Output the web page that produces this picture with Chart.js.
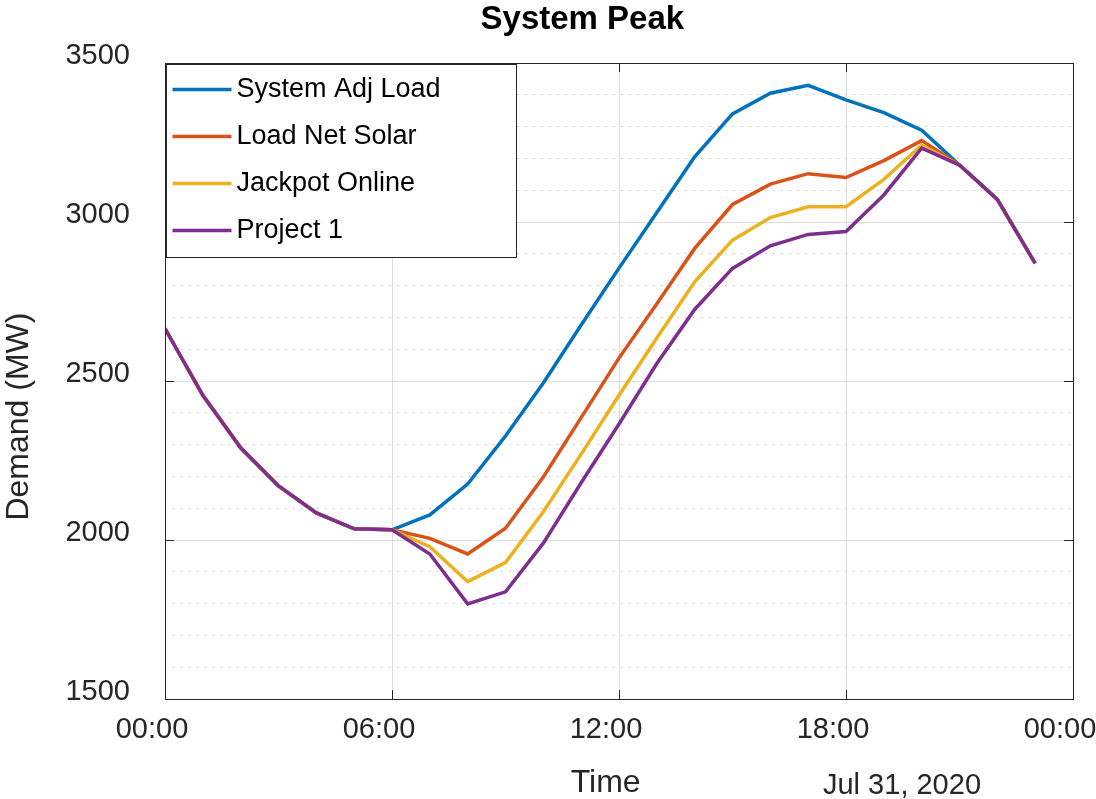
<!DOCTYPE html>
<html>
<head>
<meta charset="utf-8">
<script src="https://cdn.jsdelivr.net/npm/chart.js@4/dist/chart.umd.min.js"></script>
<style>
html,body{margin:0;padding:0;background:#ffffff;}
#wrap{width:1096px;height:799px;position:relative;}
</style>
</head>
<body>
<div id="wrap"><canvas id="c" width="1096" height="799"></canvas></div>
<script>
// ---- data (hour of day, Jul 31, 2020) ----
const hours = [0,1,2,3,4,5,6,7,8,9,10,11,12,13,14,15,16,17,18,19,20,21,22,23];
const systemAdjLoad = [2665,2455,2290,2170,2085,2035,2032,2079,2176,2327,2494,2676,2855,3030,3205,3340,3405,3430,3384,3344,3289,3179,3071,2870];
const loadNetSolar  = [2665,2455,2290,2170,2085,2035,2032,2005,1956,2037,2198,2385,2572,2743,2917,3055,3119,3152,3140,3193,3256,3179,3071,2870];
const jackpotOnline = [2665,2455,2290,2170,2085,2035,2032,1979,1869,1929,2089,2270,2455,2635,2812,2943,3014,3048,3048,3134,3242,3179,3071,2870];
const project1      = [2665,2455,2290,2170,2085,2035,2032,1956,1799,1837,1990,2180,2365,2555,2725,2854,2925,2961,2970,3085,3232,3179,3071,2870];
const seriesNames   = ['System Adj Load','Load Net Solar','Jackpot Online','Project 1'];
const xTickHours    = [0,6,12,18,24];
const yTickValues   = [1500,2000,2500,3000,3500];
const dateLabel     = 'Jul 31, 2020';

const colors = ['#0072BD','#D95319','#EDB120','#7E2F8E'];
const FONT = '"Liberation Sans", Arial, Helvetica, sans-serif';
const AX = '#262626';

function toXY(arr){ return arr.map((v,i)=>({x:hours[i], y:v})); }
const allSeries = [systemAdjLoad, loadNetSolar, jackpotOnline, project1];

const datasets = allSeries.map((s,i)=>({
  label: seriesNames[i],
  data: toXY(s),
  borderColor: colors[i],
  backgroundColor: colors[i],
  borderWidth: 3.5,
  pointRadius: 0,
  tension: 0,
  fill: false,
  order: allSeries.length - 1 - i   // later series drawn on top (as in the reference)
}));

const NB = '\u00A0';
const pad2 = n => (n<10?'0':'')+n;

const matlabPlugin = {
  id: 'matlabDecor',
  afterDatasetsDraw(chart){
    const {ctx, chartArea:a, scales:{x, y}} = chart;
    ctx.save();
    // box
    ctx.strokeStyle = AX; ctx.lineWidth = 1;
    ctx.strokeRect(Math.round(a.left)+0.5, Math.round(a.top)+0.5, Math.round(a.right-a.left), Math.round(a.bottom-a.top));
    // inward ticks
    const tl = 9;
    ctx.beginPath();
    xTickHours.forEach(h=>{
      const px = Math.round(x.getPixelForValue(h))+0.5;
      ctx.moveTo(px, a.bottom); ctx.lineTo(px, a.bottom-tl);
      ctx.moveTo(px, a.top); ctx.lineTo(px, a.top+tl);
    });
    yTickValues.forEach(v=>{
      const py = Math.round(y.getPixelForValue(v))+0.5;
      ctx.moveTo(a.left, py); ctx.lineTo(a.left+tl, py);
      ctx.moveTo(a.right, py); ctx.lineTo(a.right-tl, py);
    });
    ctx.stroke();

    // legend box
    const lx = Math.round(a.left)+1.5, ly = Math.round(a.top)+1.5;
    const lw = 350, lh = 193;
    ctx.fillStyle = '#ffffff';
    ctx.fillRect(lx, ly, lw, lh);
    ctx.strokeStyle = AX; ctx.lineWidth = 1;
    ctx.strokeRect(lx, ly, lw, lh);
    ctx.font = '27px ' + FONT;
    ctx.textBaseline = 'middle';
    ctx.textAlign = 'left';
    chart.data.datasets.forEach((ds,i)=>{
      const cy = ly + 25 + i*47;
      ctx.strokeStyle = ds.borderColor; ctx.lineWidth = 3.5;
      ctx.beginPath(); ctx.moveTo(lx+6, cy); ctx.lineTo(lx+65, cy); ctx.stroke();
      ctx.fillStyle = '#000000';
      ctx.fillText(ds.label, lx+70, cy);
    });

    // date label under axis
    ctx.font = '29px ' + FONT;
    ctx.fillStyle = AX;
    ctx.textAlign = 'center';
    ctx.textBaseline = 'middle';
    ctx.fillText(dateLabel, a.right - 171, a.bottom + 87);
    ctx.restore();
  }
};

new Chart(document.getElementById('c'), {
  type: 'line',
  data: { datasets },
  plugins: [matlabPlugin],
  options: {
    responsive: false,
    animation: false,
    devicePixelRatio: 1,
    layout: { padding: { left: 0, right: 23, top: 0, bottom: 0 } },
    plugins: {
      legend: { display: false },
      tooltip: { enabled: false },
      title: {
        display: true,
        text: NB.repeat(10) + 'System Peak',
        color: '#000000',
        font: { family: FONT, size: 33, weight: 'bold', lineHeight: 1.2 },
        padding: { top: 0, bottom: 23.4 }
      }
    },
    scales: {
      x: {
        type: 'linear',
        min: 0, max: 24,
        afterFit: s => { s.height = 100; s.paddingLeft = 0; s.paddingRight = 0; },
        afterBuildTicks: s => { s.ticks = xTickHours.map(v=>({value:v})); },
        ticks: {
          color: AX,
          font: { family: FONT, size: 29 },
          padding: 14,
          labelOffset: -13,
          maxRotation: 0,
          autoSkip: false,
          callback: v => pad2(v % 24) + ':00'
        },
        grid: { color: '#dedede', lineWidth: 1, drawTicks: false },
        border: { display: false },
        title: {
          display: true,
          text: 'Time' + NB.repeat(3),
          color: AX,
          font: { family: FONT, size: 32, lineHeight: 1.2 },
          padding: { top: 0, bottom: -3 }
        }
      },
      y: {
        type: 'linear',
        min: 1500, max: 3500,
        afterFit: s => { s.width = 165; s.paddingTop = 0; s.paddingBottom = 0; },
        ticks: {
          stepSize: 100,
          autoSkip: false,
          color: AX,
          font: { family: FONT, size: 29 },
          padding: 35,
          labelOffset: -7,
          callback: v => (v % 500 === 0 ? String(v) : '')
        },
        grid: {
          drawTicks: false,
          lineWidth: 1,
          color: c => (c.tick && c.tick.value % 500 === 0) ? '#dedede' : '#c2c2c2'
        },
        border: {
          display: false,
          dash: c => (c.tick && c.tick.value % 500 === 0) ? [] : [1.5, 6.5]
        },
        title: {
          display: true,
          text: 'Demand (MW)' + NB.repeat(8),
          color: AX,
          font: { family: FONT, size: 32, lineHeight: 1.2 },
          padding: { top: 0, bottom: 0 }
        }
      }
    }
  }
});
</script>
</body>
</html>
